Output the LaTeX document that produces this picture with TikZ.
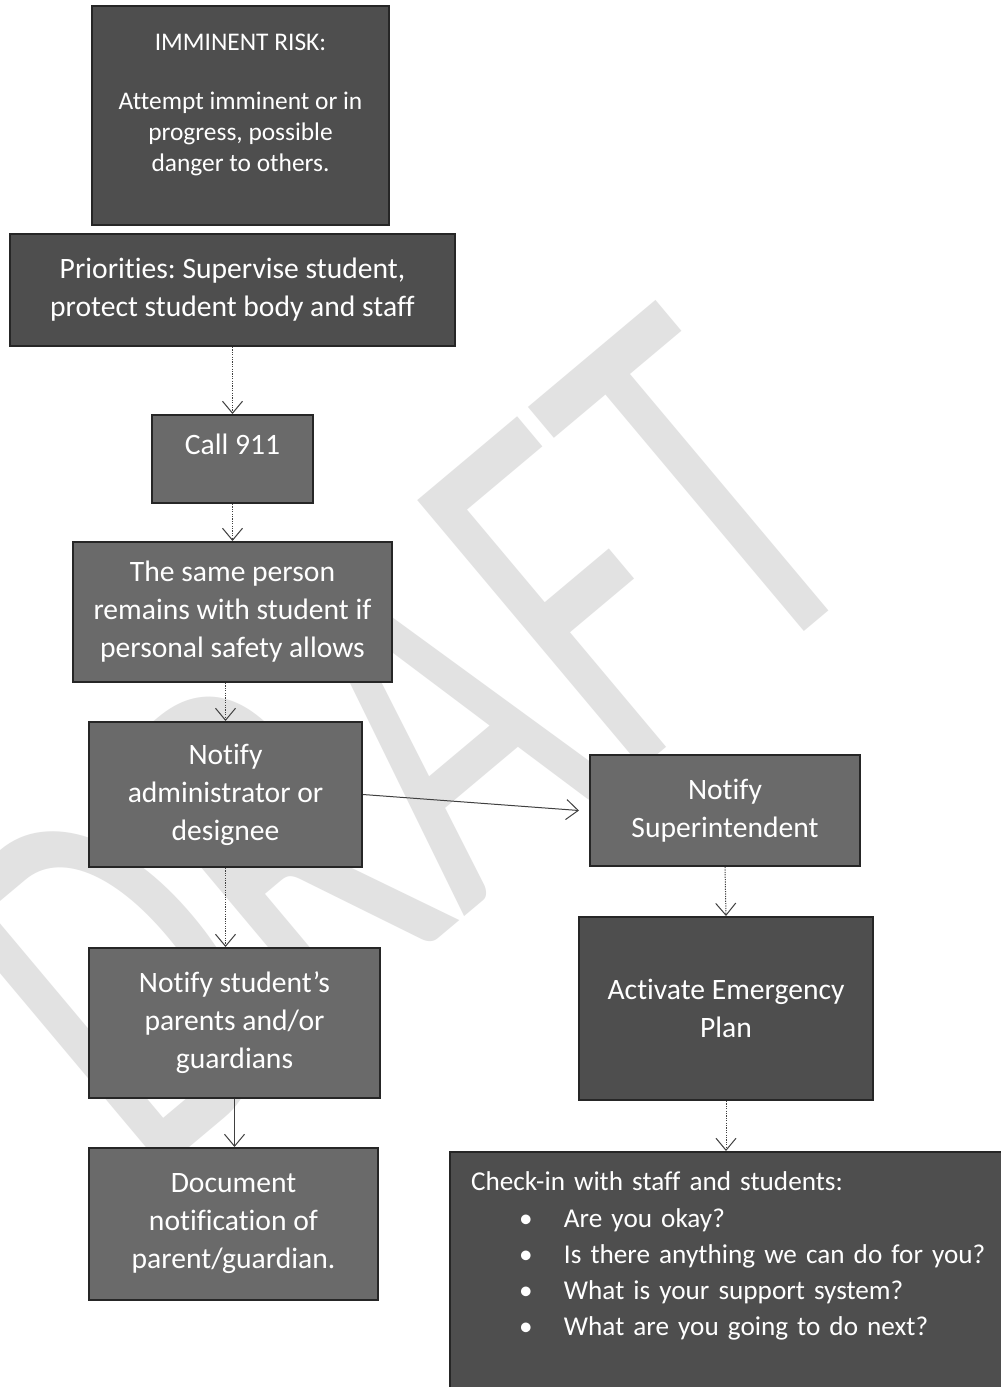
\documentclass[tikz,border=0pt]{standalone}
\usepackage{fontspec}
\setmainfont{Carlito}[Ligatures=CommonOff]
\frenchspacing
\usetikzlibrary{arrows.meta,calc}
\definecolor{boxdark}{HTML}{4E4E4E}
\definecolor{boxmid}{HTML}{6A6A6A}
\definecolor{wm}{HTML}{E2E2E2}
\begin{document}
\begin{tikzpicture}[x=0.5pt,y=-0.5pt,
  box/.style={draw=black!85, line width=1pt, fill=boxmid, text=white, align=center,
    inner sep=0pt, font=\fontsize{14.8}{19}\selectfont},
  darkbox/.style={box, fill=boxdark},
  arr/.style={draw=black!75, line width=0.5pt, dash pattern=on 0.6pt off 0.6pt,
    -{Straight Barb[length=6pt,width=10pt,line width=0.5pt]}},
  sarr/.style={arr, solid}]
\useasboundingbox (0,0) rectangle (1001,1387);
\fill[white] (0,0) rectangle (1001,1387);
% watermark
\node[rotate=40, anchor=base west, text=wm, inner sep=0pt,
  font=\fontsize{272}{280}\selectfont] (wmark) at (145,1185) {\scalebox{0.66}[1]{DRAFT}};
% boxes
\node[darkbox, minimum width=148.5pt, minimum height=109.5pt,
  font=\fontsize{12.7}{15.5}\selectfont] (risk) at (240.5,115.5)
  {IMMINENT RISK:\\[14pt]Attempt imminent or in\\progress, possible\\danger to others.\\[-2.5pt]\mbox{}};
\node[darkbox, minimum width=222.5pt, minimum height=56pt] (pri) at (232.5,290)
  {Priorities: Supervise student,\\protect student body and staff};
\node[box, minimum width=80.5pt, text height=19.5pt, text depth=24.5pt] (call) at (232.5,459) {Call 911};
\node[box, minimum width=159.5pt, minimum height=70pt] (same) at (232.5,612)
  {The same person\\remains with student if\\personal safety allows};
\node[box, minimum width=136.5pt, minimum height=72.5pt] (admin) at (225.5,794.5)
  {Notify\\administrator or\\designee};
\node[box, minimum width=135pt, minimum height=55.5pt] (super) at (725,810.5)
  {Notify\\Superintendent};
\node[darkbox, minimum width=147pt, minimum height=91.5pt] (act) at (726,1008.5)
  {Activate Emergency\\Plan};
\node[box, minimum width=145.5pt, minimum height=75pt] (par) at (234.5,1023)
  {Notify student’s\\parents and/or\\guardians};
\node[box, minimum width=144.5pt, minimum height=76pt] (doc) at (233.5,1224)
  {Document\\notification of\\parent/guardian.};
\node[darkbox, anchor=north west, align=left, text width=264pt, inner xsep=10.5pt,
  inner ysep=0pt, minimum height=122pt, font=\fontsize{13.6}{18.1}\selectfont] (check) at (449,1151)
  {Check-in with staff and students:\\
   \hspace*{24pt}\makebox[22.5pt][l]{\textbullet}Are you okay?\\
   \hspace*{24pt}\makebox[22.5pt][l]{\textbullet}Is there anything we can do for you?\\
   \hspace*{24pt}\makebox[22.5pt][l]{\textbullet}What is your support system?\\
   \hspace*{24pt}\makebox[22.5pt][l]{\textbullet}What are you going to do next?\\[2pt]\mbox{}};
% connectors
\draw[arr] (pri.south) -- (call.north);
\draw[arr] (call.south) -- (same.north);
\draw[arr] (admin.north |- same.south) -- (admin.north);
\draw[arr] (admin.south) -- (admin.south |- par.north);
\draw[sarr] (par.south) -- (par.south |- doc.north);
\draw[sarr] (admin.east) -- ([xshift=-5pt]super.west);
\draw[arr] (super.south) -- (act.north);
\draw[arr] (act.south) -- (act.south |- check.north);
\end{tikzpicture}
\end{document}
